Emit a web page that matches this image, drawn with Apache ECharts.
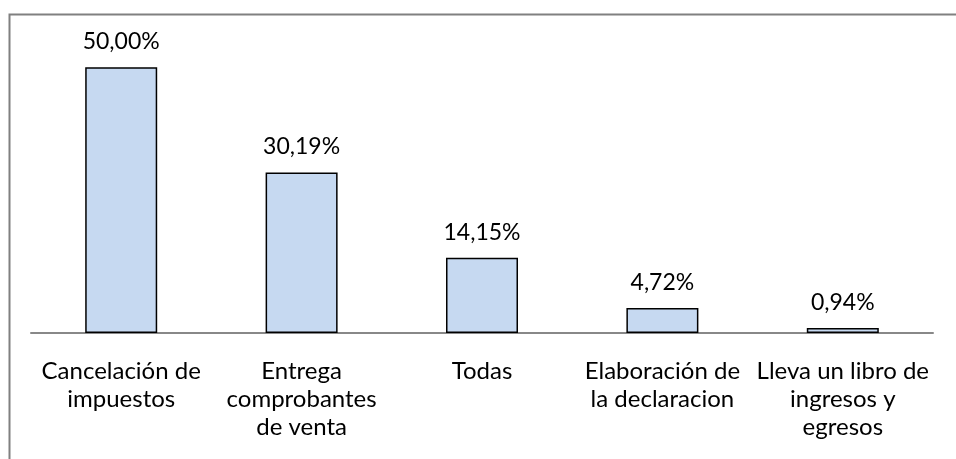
<!DOCTYPE html>
<html>
  <head>
    <meta charset="utf-8" />
    <title>ECharts</title>
    <script src="https://cdn.jsdelivr.net/npm/echarts@6/dist/echarts.min.js"></script>
    <style>
      html, body { margin: 0; padding: 0; background: #fff; }
    </style>
  </head>
  <body>
    <div id="main" style="width: 956px;height:459px;"></div>
    <script type="text/javascript">
      // datos
      var categorias = [
        "Cancelación de\nimpuestos",
        "Entrega\ncomprobantes\nde venta",
        "Todas",
        "Elaboración de\nla declaracion",
        "Lleva un libro de\ningresos y\negresos"
      ];
      var porcentajes = [50.0, 30.19, 14.15, 4.72, 0.94];

      var myChart = echarts.init(document.getElementById("main"));
      var fuente = "Lato";

      var option = {
        backgroundColor: "#fff",
        animation: false,
        graphic: [
          {
            type: "rect",
            shape: { x: 9.5, y: 14.5, width: 1000, height: 1000 },
            style: { fill: "none", stroke: "#808080", lineWidth: 2 },
            silent: true
          }
        ],
        grid: { left: 31, right: 23, top: 14, bottom: 126 },
        xAxis: {
          type: "category",
          data: categorias,
          axisLine: { lineStyle: { color: "#888", width: 2 } },
          axisTick: { show: false },
          axisLabel: {
            interval: 0,
            margin: 24,
            color: "#000",
            fontFamily: fuente,
            fontSize: 24,
            lineHeight: 28
          }
        },
        yAxis: {
          type: "value",
          min: 0,
          max: 60,
          show: false,
          splitLine: { show: false }
        },
        series: [
          {
            type: "bar",
            data: porcentajes,
            barWidth: 72,
            itemStyle: {
              color: "#C6D9F1",
              borderColor: "#000",
              borderWidth: 1.5
            },
            label: {
              show: true,
              position: "top",
              distance: 14,
              color: "#000",
              fontFamily: fuente,
              fontSize: 23,
              formatter: function (p) {
                return p.value.toFixed(2).replace(".", ",") + "%";
              }
            }
          }
        ]
      };

      myChart.setOption(option);
    </script>
  </body>
</html>
